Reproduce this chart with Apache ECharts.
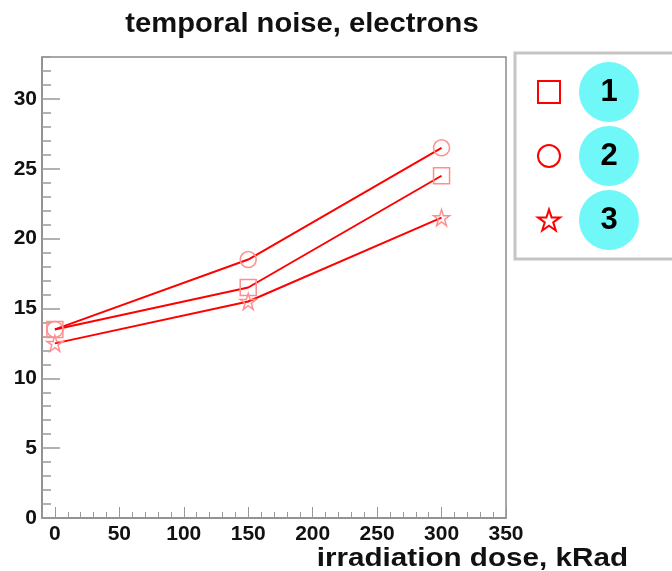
<!DOCTYPE html>
<html>
<head>
<meta charset="utf-8">
<script src="https://cdn.jsdelivr.net/npm/echarts@6/dist/echarts.min.js"></script>
<style>
html,body{margin:0;padding:0;background:#fff;}
#chart{width:672px;height:571px;}
</style>
</head>
<body>
<div id="chart"></div>
<script>
// ---- data ----
const doses = [0, 150, 300];
const series1 = [13.5, 16.5, 24.5];   // squares
const series2 = [13.5, 18.5, 26.5];   // circles
const series3 = [12.5, 15.5, 21.5];   // stars
const seriesNames = ['1', '2', '3'];
const xTickLabels = [0, 50, 100, 150, 200, 250, 300, 350];
const yTickLabels = [0, 5, 10, 15, 20, 25, 30];
const titleText = 'temporal noise, electrons';
const xTitleText = 'irradiation dose, kRad';

const STAR = 'path://M50,2 L61,36 L97,36 L68,57 L79,92 L50,71 L21,92 L32,57 L3,36 L39,36 Z';
const symbols = ['rect', 'circle', STAR];
const values = [series1, series2, series3];

const FONT = '"Liberation Sans", Arial, Helvetica, sans-serif';
const axisGray = '#8c8c8c';

const chart = echarts.init(document.getElementById('chart'), null, {renderer: 'canvas'});

const xMin = -10, xMax = 350, yMin = 0, yMax = 33;

const option = {
  backgroundColor: '#fff',
  animation: false,
  grid: {
    left: 42, right: 166, top: 57, bottom: 53,
    show: true, borderColor: axisGray, borderWidth: 1.5, backgroundColor: 'transparent'
  },
  xAxis: [
    { // minor ticks
      type: 'value', position: 'bottom', min: xMin, max: xMax, interval: 10,
      axisLine: {show: true, onZero: false, lineStyle: {color: axisGray, width: 1.5}},
      axisTick: {show: true, inside: true, length: 6, lineStyle: {color: '#999', width: 1}},
      axisLabel: {show: false}, splitLine: {show: false}
    },
    { // major ticks + labels
      type: 'value', position: 'bottom', min: xMin, max: xMax,
      axisLine: {show: false, onZero: false},
      axisTick: {show: true, inside: true, length: 11, customValues: xTickLabels, lineStyle: {color: '#999', width: 1}},
      axisLabel: {show: true, customValues: xTickLabels, margin: 6, fontFamily: FONT, fontWeight: 'bold', fontSize: 21, color: '#111'},
      splitLine: {show: false}
    }
  ],
  yAxis: [
    { // minor ticks
      type: 'value', position: 'left', min: yMin, max: yMax, interval: 1,
      axisLine: {show: true, onZero: false, lineStyle: {color: axisGray, width: 1.5}},
      axisTick: {show: true, inside: true, length: 9, lineStyle: {color: '#999', width: 1.5}},
      axisLabel: {show: false}, splitLine: {show: false}
    },
    { // major ticks + labels
      type: 'value', position: 'left', min: yMin, max: yMax,
      axisLine: {show: false, onZero: false},
      axisTick: {show: true, inside: true, length: 18, customValues: yTickLabels, lineStyle: {color: '#999', width: 1.5}},
      axisLabel: {show: true, customValues: yTickLabels, margin: 5, fontFamily: FONT, fontWeight: 'bold', fontSize: 21, color: '#111'},
      splitLine: {show: false}
    }
  ],
  legend: {
    orient: 'vertical', left: 515, top: 53,
    padding: [9, 60, 9, 22],
    borderColor: '#c4c4c4', borderWidth: 3, backgroundColor: '#fff',
    itemWidth: 22, itemHeight: 22, itemGap: 4,
    selectedMode: false,
    data: seriesNames.map((n, i) => ({
      name: n, icon: symbols[i],
      itemStyle: {color: 'transparent', borderColor: '#ff0000', borderWidth: 2}
    })),
    formatter: n => '{s|}{c|' + n + '}',
    textStyle: {
      rich: {
        s: {width: 14},
        c: {width: 60, height: 60, lineHeight: 60, borderRadius: 30, backgroundColor: '#70f8f8',
            align: 'center', verticalAlign: 'middle', fontFamily: FONT, fontWeight: 'bold', fontSize: 31, color: '#000'}
      }
    }
  },
  graphic: [
    {type: 'text', x: 302, y: 38, scaleX: 1.08, style: {text: titleText, font: 'bold 27px ' + FONT, fill: '#111', textAlign: 'center', textVerticalAlign: 'bottom'}},
    {type: 'text', x: 628, y: 572, scaleX: 1.14, style: {text: xTitleText, font: 'bold 26px ' + FONT, fill: '#111', textAlign: 'right', textVerticalAlign: 'bottom'}}
  ],
  series: seriesNames.map((n, i) => ({
    name: n, type: 'line', xAxisIndex: 0, yAxisIndex: 0,
    data: doses.map((d, j) => [d, values[i][j]]),
    symbol: symbols[i], symbolSize: 16, showAllSymbol: true,
    lineStyle: {color: '#ff0000', width: 2},
    itemStyle: {color: 'transparent', borderColor: '#ff8f8f', borderWidth: 1.5},
    emphasis: {disabled: true}
  }))
};
chart.setOption(option);
</script>
</body>
</html>
